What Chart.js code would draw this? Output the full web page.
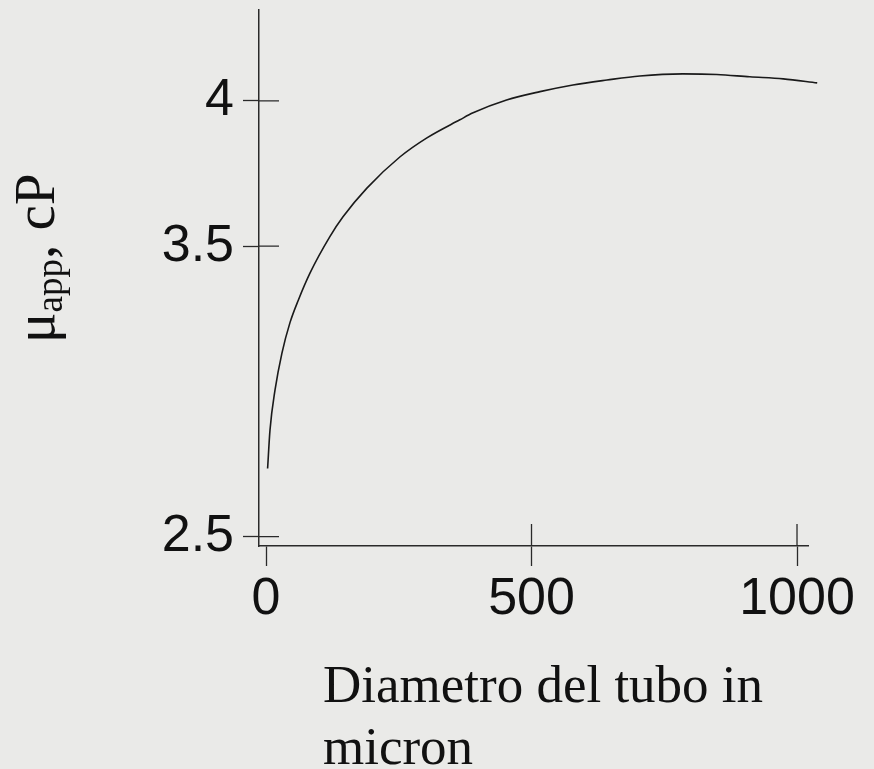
<!DOCTYPE html>
<html>
<head>
<meta charset="utf-8">
<script src="https://cdn.jsdelivr.net/npm/chart.js@4.4.1/dist/chart.umd.min.js"></script>
<style>
  html, body { margin: 0; padding: 0; background: #eaeae8; }
  #wrap { width: 874px; height: 769px; position: relative; }
</style>
</head>
<body>
<div id="wrap"><canvas id="viscChart"></canvas></div>
<script>
// curve
const diameterMicron = [3, 7.5, 17, 30, 45, 61, 83, 120, 145, 190, 252, 303, 365, 390, 453, 516, 578, 642, 704, 785, 849, 911, 974, 1038];
const viscosityCP = [2.735, 2.867, 3.005, 3.132, 3.236, 3.315, 3.408, 3.532, 3.601, 3.700, 3.807, 3.873, 3.935, 3.959, 4.003, 4.032, 4.055, 4.072, 4.086, 4.093, 4.091, 4.083, 4.076, 4.062];

const xTickValues = [0, 500, 1000];
const xTickLabels = ['0', '500', '1000'];
const yTickValues = [2.5, 3.5, 4];
const yTickLabels = ['2.5', '3.5', '4'];

const xTitleLines = ['Diametro del tubo in', 'micron'];
const yTitleParts = ['\u03bc', 'app', ', cP'];

const axisColor = '#2a2a2a';
const textColor = '#111111';

// tick marks in the picture cross the axis, the part inside is drawn here
const crossTicks = {
  id: 'crossTicks',
  afterDraw(chart) {
    const { ctx, scales: { x, y } } = chart;
    ctx.save();
    ctx.strokeStyle = axisColor;
    ctx.lineWidth = 1.3;
    ctx.beginPath();
    x.ticks.forEach((t, i) => {
      if (i === 0) return;
      const px = x.getPixelForValue(t.value);
      ctx.moveTo(px, x.top);
      ctx.lineTo(px, x.top - 22);
    });
    y.ticks.forEach((t) => {
      const py = y.getPixelForValue(t.value);
      ctx.moveTo(y.right, py);
      ctx.lineTo(y.right + 20, py);
    });
    ctx.stroke();
    ctx.restore();
  },
};

const axisTitles = {
  id: 'axisTitles',
  afterDraw(chart) {
    const { ctx, scales: { x } } = chart;
    ctx.save();
    ctx.fillStyle = textColor;
    ctx.textAlign = 'left';
    ctx.textBaseline = 'alphabetic';

    ctx.font = '53px "Liberation Serif", "Times New Roman", serif';
    ctx.fillText(xTitleLines[0], x.left + 64, 702);
    ctx.fillText(xTitleLines[1], x.left + 64, 764);

    ctx.translate(54, 343);
    ctx.rotate(-Math.PI / 2);
    let pos = 0;
    ctx.font = '57px "Liberation Serif", "Times New Roman", serif';
    ctx.fillText(yTitleParts[0], pos, 0);
    pos += ctx.measureText(yTitleParts[0]).width;
    ctx.font = '37px "Liberation Serif", "Times New Roman", serif';
    ctx.fillText(yTitleParts[1], pos, 8);
    pos += ctx.measureText(yTitleParts[1]).width;
    ctx.font = '57px "Liberation Serif", "Times New Roman", serif';
    ctx.fillText(yTitleParts[2], pos, 0);
    ctx.restore();
  },
};

const points = diameterMicron.map((d, i) => ({ x: d, y: viscosityCP[i] }));

new Chart(document.getElementById('viscChart'), {
  type: 'line',
  data: {
    datasets: [
      {
        data: points,
        borderColor: '#1a1a1a',
        borderWidth: 1.6,
        pointRadius: 0,
        cubicInterpolationMode: 'monotone',
        fill: false,
        clip: false,
      },
    ],
  },
  options: {
    responsive: true,
    maintainAspectRatio: false,
    animation: false,
    layout: { padding: { top: 10, right: 66, left: 0, bottom: 0 } },
    plugins: {
      legend: { display: false },
      tooltip: { enabled: false },
    },
    scales: {
      x: {
        type: 'linear',
        min: -13.2,
        max: 1020.7,
        afterFit: (s) => {
          s.height = 223;
          s.paddingLeft = 0;
          s.paddingRight = 0;
        },
        afterBuildTicks: (s) => { s.ticks = xTickValues.map((v) => ({ value: v })); },
        ticks: {
          color: textColor,
          padding: 2,
          font: { family: '"Liberation Sans", Arial, sans-serif', size: 52 },
          callback: (v, i) => xTickLabels[i],
        },
        grid: {
          drawOnChartArea: false,
          tickLength: 20,
          tickColor: axisColor,
          tickWidth: 1.3,
        },
        border: { display: true, color: axisColor, width: 1.5 },
      },
      y: {
        type: 'linear',
        min: 2.468,
        max: 4.313,
        afterFit: (s) => {
          s.width = 259;
          s.paddingTop = 0;
          s.paddingBottom = 0;
        },
        afterBuildTicks: (s) => { s.ticks = yTickValues.map((v) => ({ value: v })); },
        ticks: {
          color: textColor,
          padding: 9,
          font: { family: '"Liberation Sans", Arial, sans-serif', size: 52 },
          callback: (v, i) => yTickLabels[i],
        },
        grid: {
          drawOnChartArea: false,
          tickLength: 16,
          tickColor: axisColor,
          tickWidth: 1.3,
        },
        border: { display: true, color: axisColor, width: 1.5 },
      },
    },
  },
  plugins: [crossTicks, axisTitles],
});
</script>
</body>
</html>
